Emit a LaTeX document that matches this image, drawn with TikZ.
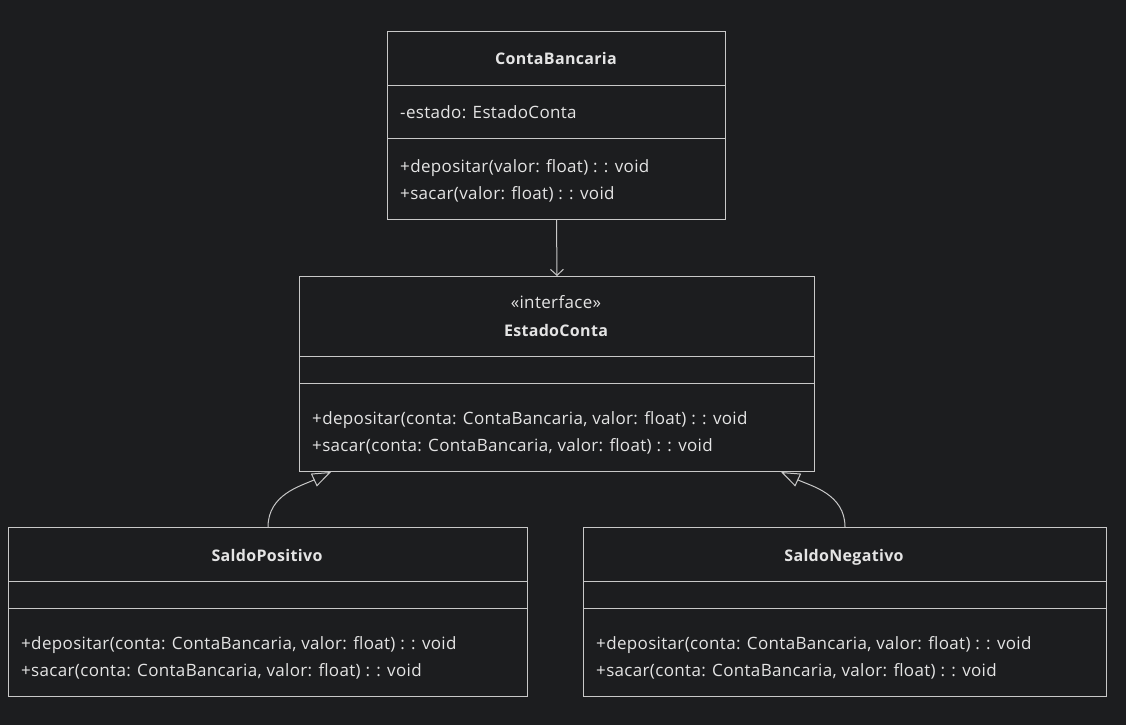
\documentclass[tikz,border=0pt]{standalone}
\usepackage{fontspec}
\setmainfont{Open Sans}[LetterSpace=2]
\usepackage{tikz}
\usetikzlibrary{arrows.meta}
\definecolor{bgcol}{HTML}{1C1D1F}
\definecolor{linecol}{HTML}{C8C8C8}
\definecolor{textcol}{HTML}{E4E4E4}
\tikzstyle{classbox}=[draw=linecol, line width=1pt, anchor=north west, inner sep=0pt]
\tikzstyle{classname}=[text=textcol, font=\fontsize{16pt}{19pt}\selectfont\bfseries, anchor=base, inner sep=0pt]
\tikzstyle{member}=[text=textcol, font=\fontsize{17pt}{20pt}\selectfont, anchor=base west, inner sep=0pt]
\tikzstyle{divider}=[draw=linecol, line width=1pt]
\tikzstyle{assoc}=[draw=linecol, line width=1pt, -{Straight Barb[length=6pt,width=13pt]}]
\tikzstyle{realize}=[draw=linecol, line width=1pt, -{Triangle[open,length=19pt,width=14pt]}]

\begin{document}
\begin{tikzpicture}[x=1pt, y=1pt]
    \fill[bgcol] (0,0) rectangle (1126,-725);
    \useasboundingbox (0,0) rectangle (1126,-725);

    % ContaBancaria
    \node[classbox, minimum width=338pt, minimum height=188pt] (cb) at (387,-31) {};
    \draw[divider] (cb.west |- 0,-85) -- (cb.east |- 0,-85);
    \draw[divider] (cb.west |- 0,-138) -- (cb.east |- 0,-138);
    \node[classname] (cbname) at (556,-64) {ContaBancaria};
    \node[member] (cbestado) at (400,-118) {-estado: EstadoConta};
    \node[member] (cbdep) at (400,-172) {+depositar(valor: float) : : void};
    \node[member] (cbsac) at (400,-199) {+sacar(valor: float) : : void};

    % EstadoConta
    \node[classbox, minimum width=515pt, minimum height=195pt] (ec) at (299,-276) {};
    \draw[divider] (ec.west |- 0,-356) -- (ec.east |- 0,-356);
    \draw[divider] (ec.west |- 0,-383) -- (ec.east |- 0,-383);
    \node[member, anchor=base] (ecstereo) at (556,-308.5) {«interface»};
    \node[classname] (ecname) at (556,-336) {EstadoConta};
    \node[member] (ecdep) at (312,-424) {+depositar(conta: ContaBancaria, valor: float) : : void};
    \node[member] (ecsac) at (312,-451) {+sacar(conta: ContaBancaria, valor: float) : : void};

    % SaldoPositivo
    \node[classbox, minimum width=519pt, minimum height=169pt] (sp) at (8,-527) {};
    \draw[divider] (sp.west |- 0,-581) -- (sp.east |- 0,-581);
    \draw[divider] (sp.west |- 0,-608) -- (sp.east |- 0,-608);
    \node[classname] (spname) at (267,-561) {SaldoPositivo};
    \node[member] (spdep) at (21,-649) {+depositar(conta: ContaBancaria, valor: float) : : void};
    \node[member] (spsac) at (21,-676) {+sacar(conta: ContaBancaria, valor: float) : : void};

    % SaldoNegativo
    \node[classbox, minimum width=523pt, minimum height=169pt] (sn) at (583,-527) {};
    \draw[divider] (sn.west |- 0,-581) -- (sn.east |- 0,-581);
    \draw[divider] (sn.west |- 0,-608) -- (sn.east |- 0,-608);
    \node[classname] (snname) at (844,-561) {SaldoNegativo};
    \node[member] (sndep) at (596,-649) {+depositar(conta: ContaBancaria, valor: float) : : void};
    \node[member] (snsac) at (596,-676) {+sacar(conta: ContaBancaria, valor: float) : : void};

    % connectors
    \draw[assoc] (cb.south) -- (ec.north);
    \draw[realize] (sp.north -| 268,0) to[out=90, in=205] (ec.south -| 331,0);
    \draw[realize] (sn.north -| 845,0) to[out=90, in=-25] (ec.south -| 781,0);
\end{tikzpicture}
\end{document}
